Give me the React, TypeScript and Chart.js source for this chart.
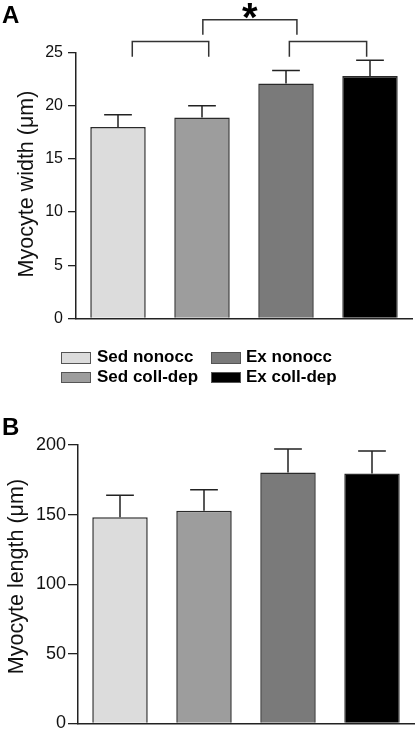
import React, { useEffect, useRef } from "react";
import { Chart, registerables } from "chart.js";

Chart.register(...registerables);

// ---------- data ----------
const categories = ["Sed nonocc", "Sed coll-dep", "Ex nonocc", "Ex coll-dep"];
const barColors = ["#dcdcdc", "#9d9d9d", "#7a7a7a", "#000000"];

const widthMeans = [18.0, 18.9, 22.1, 22.8];
const widthErrors = [1.15, 1.1, 1.22, 1.5];
const widthTicks = [0, 5, 10, 15, 20, 25];

const lengthMeans = [148, 152.7, 180.3, 179.6];
const lengthErrors = [15.8, 15.1, 16.8, 16.0];
const lengthTicks = [0, 50, 100, 150, 200];

// significance brackets (x in category-index units, y in µm)
const bracketStarts = [0.17, 2.04, 1.01];
const bracketEnds = [1.08, 2.96, 2.13];
const bracketTops = [26.05, 26.05, 28.1];
const bracketFeet = [24.63, 24.63, 26.68];
const significanceMark = "*";

const FONT = "'Liberation Sans', Arial, Helvetica, sans-serif";
const INK = "#222222";

// ---------- plugins ----------
function errorBarPlugin(means: number[], errors: number[]) {
  return {
    id: "errorBars",
    afterDatasetsDraw(chart: any) {
      const { ctx } = chart;
      const y = chart.scales.y;
      const meta = chart.getDatasetMeta(0);
      ctx.save();
      ctx.strokeStyle = INK;
      ctx.lineWidth = 1.5;
      meta.data.forEach((bar: any, i: number) => {
        const x = bar.x;
        const half = bar.width / 4;
        const y0 = y.getPixelForValue(means[i]);
        const y1 = y.getPixelForValue(means[i] + errors[i]);
        ctx.beginPath();
        ctx.moveTo(x, y0);
        ctx.lineTo(x, y1);
        ctx.moveTo(x - half, y1);
        ctx.lineTo(x + half, y1);
        ctx.stroke();
      });
      ctx.restore();
    },
  };
}

function axisTitlePlugin(text: string, baselineX: number, yShift: number) {
  return {
    id: "axisTitle",
    afterDraw(chart: any) {
      const { ctx, chartArea } = chart;
      ctx.save();
      ctx.translate(baselineX, (chartArea.top + chartArea.bottom) / 2 + yShift);
      ctx.rotate(-Math.PI / 2);
      ctx.font = `21.5px ${FONT}`;
      ctx.fillStyle = "#111";
      ctx.textAlign = "center";
      ctx.textBaseline = "alphabetic";
      ctx.fillText(text, 0, 0);
      ctx.restore();
    },
  };
}

const bracketPlugin = {
  id: "brackets",
  afterDraw(chart: any) {
    const { ctx } = chart;
    const xs = chart.scales.x;
    const ys = chart.scales.y;
    ctx.save();
    ctx.strokeStyle = "#333333";
    ctx.lineWidth = 1.5;
    for (let i = 0; i < bracketStarts.length; i++) {
      const x1 = xs.getPixelForValue(bracketStarts[i]);
      const x2 = xs.getPixelForValue(bracketEnds[i]);
      const yt = ys.getPixelForValue(bracketTops[i]);
      const yf = ys.getPixelForValue(bracketFeet[i]);
      ctx.beginPath();
      ctx.moveTo(x1, yf);
      ctx.lineTo(x1, yt);
      ctx.lineTo(x2, yt);
      ctx.lineTo(x2, yf);
      ctx.stroke();
    }
    const last = bracketStarts.length - 1;
    const cx = (xs.getPixelForValue(bracketStarts[last]) + xs.getPixelForValue(bracketEnds[last])) / 2;
    const cy = ys.getPixelForValue(bracketTops[last]);
    ctx.fillStyle = "#000";
    ctx.font = `bold 40px ${FONT}`;
    ctx.textAlign = "center";
    ctx.textBaseline = "alphabetic";
    ctx.fillText(significanceMark, cx, cy + 11);
    ctx.restore();
  },
};

// ---------- config ----------
function makeConfig(p: {
  means: number[];
  errors: number[];
  ticks: number[];
  max: number;
  tickSize: number;
  tickLength: number;
  tickPad: number;
  yWidth: number;
  padding: { top: number; right: number; bottom: number; left: number };
  extraPlugins: any[];
}) {
  return {
    type: "bar",
    data: {
      labels: categories,
      datasets: [
        {
          data: p.means,
          backgroundColor: barColors,
          borderColor: "#2a2a2a",
          borderWidth: 1.5,
          barPercentage: 0.66,
          categoryPercentage: 1,
        },
      ],
    },
    options: {
      animation: false,
      responsive: false,
      devicePixelRatio: 1,
      layout: { padding: p.padding },
      plugins: {
        legend: { display: false },
        tooltip: { enabled: false },
      },
      scales: {
        x: {
          type: "category",
          offset: true,
          grid: { display: true, drawOnChartArea: false, drawTicks: false, color: "rgba(0,0,0,0)" },
          ticks: { display: false },
          border: { display: true, color: INK, width: 1.5 },
          afterFit: (s: any) => {
            s.height = 0;
          },
        },
        y: {
          min: 0,
          max: p.max,
          afterBuildTicks: (s: any) => {
            s.ticks = p.ticks.map((v) => ({ value: v }));
          },
          ticks: {
            font: { size: p.tickSize, family: FONT },
            color: "#111",
            padding: p.tickPad,
          },
          grid: {
            display: true,
            drawOnChartArea: false,
            drawTicks: true,
            tickLength: p.tickLength,
            color: INK,
            lineWidth: 1.3,
          },
          border: { display: true, color: INK, width: 1.5 },
          title: { display: false },
          afterFit: (s: any) => {
            s.width = p.yWidth;
          },
        },
      },
    },
    plugins: [errorBarPlugin(p.means, p.errors), ...p.extraPlugins],
  };
}

// ---------- component ----------
export default function App() {
  const refA = useRef<HTMLCanvasElement | null>(null);
  const refB = useRef<HTMLCanvasElement | null>(null);

  useEffect(() => {
    const a = new Chart(
      refA.current as HTMLCanvasElement,
      makeConfig({
        means: widthMeans,
        errors: widthErrors,
        ticks: widthTicks,
        max: 25,
        tickSize: 16,
        tickLength: 8,
        tickPad: 5,
        yWidth: 76,
        padding: { top: 52.7, right: 4, bottom: 15.7, left: 0 },
        extraPlugins: [bracketPlugin, axisTitlePlugin("Myocyte width (μm)", 33, -1.5)],
      }) as any
    );
    const b = new Chart(
      refB.current as HTMLCanvasElement,
      makeConfig({
        means: lengthMeans,
        errors: lengthErrors,
        ticks: lengthTicks,
        max: 200,
        tickSize: 18,
        tickLength: 10,
        tickPad: 2,
        yWidth: 78,
        padding: { top: 55, right: 2, bottom: 16.7, left: 0 },
        extraPlugins: [axisTitlePlugin("Myocyte length (μm)", 23, -7.6)],
      }) as any
    );
    return () => {
      a.destroy();
      b.destroy();
    };
  }, []);

  const legendPos = [
    { sx: 61, sy: 352, tx: 97, ty: 347.6 },
    { sx: 61, sy: 371.5, tx: 97, ty: 368.1 },
    { sx: 211, sy: 352, tx: 246, ty: 347.6 },
    { sx: 211, sy: 371.5, tx: 246, ty: 368.1 },
  ];

  const panelLabel = (text: string, top: number) => (
    <div
      style={{
        position: "absolute",
        left: 2,
        top,
        fontFamily: FONT,
        fontWeight: "bold",
        fontSize: 24,
        lineHeight: "24px",
        color: "#000",
      }}
    >
      {text}
    </div>
  );

  return (
    <div
      style={{
        position: "absolute",
        left: 0,
        top: 0,
        width: 416,
        height: 730,
        background: "#fff",
        overflow: "hidden",
      }}
    >
      <canvas ref={refA} width={416} height={334} style={{ position: "absolute", left: 0, top: 0 }} />
      <canvas ref={refB} width={416} height={350} style={{ position: "absolute", left: 0, top: 390 }} />
      {panelLabel("A", 2.7)}
      {panelLabel("B", 414.7)}
      {categories.map((c, i) => (
        <React.Fragment key={c}>
          <div
            style={{
              position: "absolute",
              left: legendPos[i].sx,
              top: legendPos[i].sy,
              width: 30,
              height: 11.5,
              boxSizing: "border-box",
              border: "1px solid #555",
              background: barColors[i],
            }}
          />
          <div
            style={{
              position: "absolute",
              left: legendPos[i].tx,
              top: legendPos[i].ty,
              fontFamily: FONT,
              fontWeight: "bold",
              fontSize: 17,
              lineHeight: "17px",
              color: "#000",
              whiteSpace: "nowrap",
            }}
          >
            {c}
          </div>
        </React.Fragment>
      ))}
    </div>
  );
}
